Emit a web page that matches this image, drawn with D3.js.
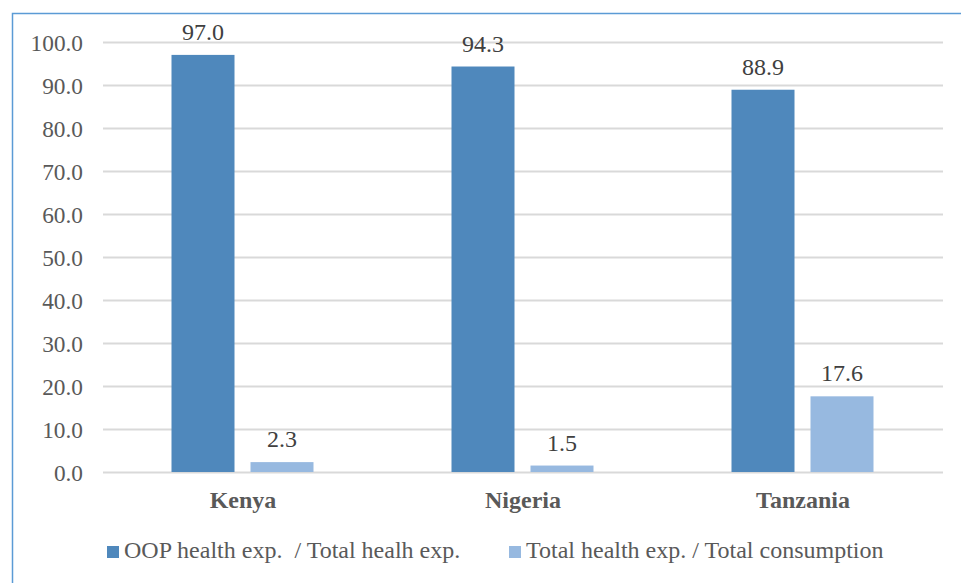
<!DOCTYPE html>
<html><head><meta charset="utf-8">
<script src="https://cdn.jsdelivr.net/npm/d3@7"></script>
<style>body{margin:0;background:#fff;}</style>
</head><body><svg id="c" width="961" height="583"></svg>
<script>
const categories = ["Kenya", "Nigeria", "Tanzania"];
const seriesNames = ["OOP health exp.  / Total healh exp.", "Total health exp. / Total consumption"];
const oopShare = [97.0, 94.3, 88.9];
const healthShare = [2.3, 1.5, 17.6];
const tickValues = [0, 10, 20, 30, 40, 50, 60, 70, 80, 90, 100];
const colors = ["#4F88BC", "#97B9E0"];

(function () {
const FONT = "Liberation Serif";
const FS = "24px";
const FS_TICK = "23.3px";
const svg = d3.select("#c");
svg.append("rect").attr("x", 12.5).attr("y", 13.5).attr("width", 980).attr("height", 620)
  .attr("fill", "none").attr("stroke", "#5B9BD5").attr("stroke-width", 1.5);

const pl = 103, pr = 943, pt = 42, pb = 472;
const x = d3.scaleBand().domain(categories).range([pl, pr]);
const series = [oopShare, healthShare];
const xs = d3.scaleBand().domain([0, 1]).range([68.5, 210.5]).paddingInner(0.2025);
const y = d3.scaleLinear().domain([0, 100]).range([pb, pt]);

const yAxis = svg.append("g").attr("transform", `translate(${pl},0)`)
  .call(d3.axisLeft(y).tickValues(tickValues).tickFormat(d3.format(".1f")).tickSize(-(pr - pl)).tickPadding(20));
yAxis.attr("font-family", null).attr("font-size", null);
yAxis.select(".domain").remove();
yAxis.selectAll(".tick line").attr("stroke", "#D9D9D9").attr("stroke-width", 2);
yAxis.selectAll(".tick text").attr("fill", "#595959")
  .style("font-family", FONT).style("font-size", FS_TICK).attr("dy", "0.35em");

series.forEach((vals, si) => {
  const g = svg.append("g");
  g.selectAll("rect").data(vals).join("rect")
    .attr("x", (d, i) => x(categories[i]) + xs(si))
    .attr("width", xs.bandwidth())
    .attr("y", d => y(d)).attr("height", d => y(0) - y(d))
    .attr("fill", colors[si]);
  g.selectAll("text").data(vals).join("text")
    .attr("x", (d, i) => x(categories[i]) + xs(si) + xs.bandwidth() / 2)
    .attr("y", d => y(d) - 15)
    .attr("text-anchor", "middle").attr("fill", "#404040")
    .style("font-family", FONT).style("font-size", FS)
    .text(d => d.toFixed(1));
});

svg.append("g").selectAll("text").data(categories).join("text")
  .attr("x", d => x(d) + x.bandwidth() / 2).attr("y", 508)
  .attr("text-anchor", "middle").attr("fill", "#595959")
  .style("font-weight", "bold").style("font-family", FONT).style("font-size", FS).text(d => d);

const legendX = [107, 509];
const lg = svg.append("g");
seriesNames.forEach((name, i) => {
  lg.append("rect").attr("x", legendX[i]).attr("y", 546).attr("width", 12).attr("height", 12).attr("fill", colors[i]);
  lg.append("text").attr("x", legendX[i] + 17).attr("y", 558).attr("fill", "#595959")
    .style("font-family", FONT).style("font-size", FS).style("white-space", "pre").text(name);
});
})();
</script></body></html>
